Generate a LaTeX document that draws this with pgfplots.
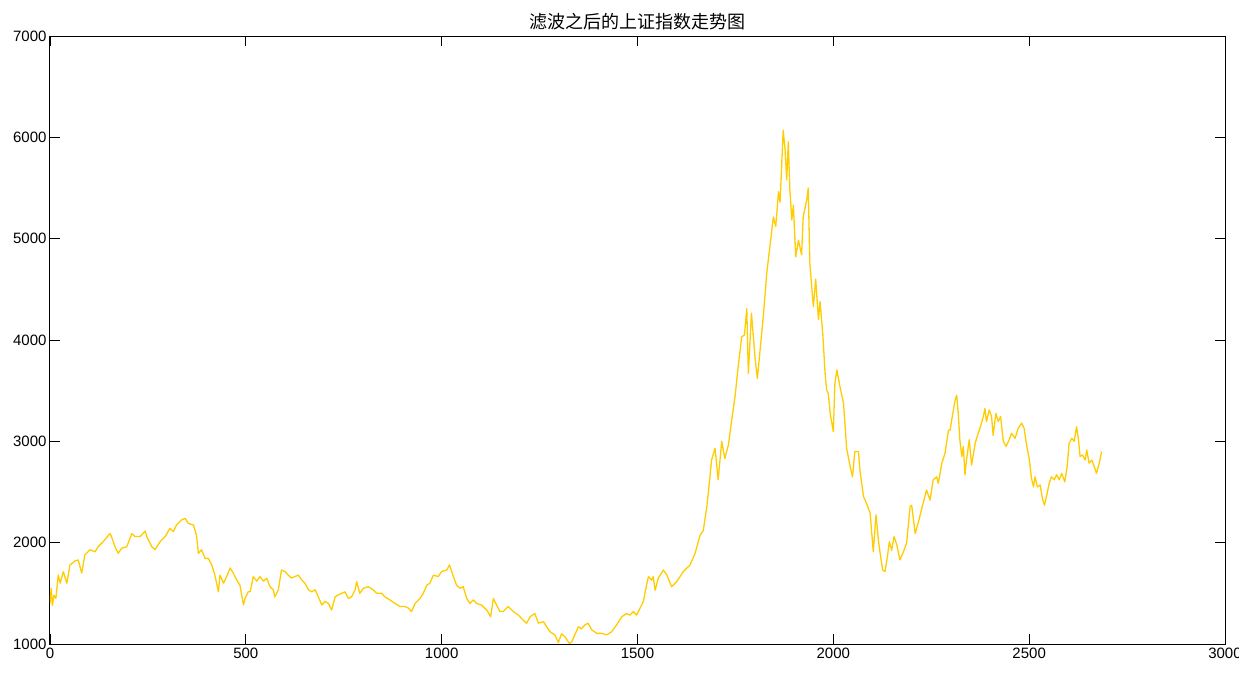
\documentclass[border=0pt]{standalone}
\usepackage{pgfplots}
\pgfplotsset{compat=1.18}
\usepackage{fontspec}
\setmainfont{Liberation Sans}
\newfontfamily\cjk{Noto Sans CJK SC}
\definecolor{lineyellow}{RGB}{255,204,0}
\begin{document}
\begin{tikzpicture}
\begin{axis}[
  scale only axis,
  width=1175pt, height=608pt,
  at={(0,0)}, anchor=south west,
  xmin=0, xmax=3000, ymin=1000, ymax=7000,
  xtick={0,500,...,3000}, ytick={1000,2000,...,7000},
  tick align=inside,
  major tick length=10pt,
  axis line style={line width=1pt},
  every tick/.style={black, line width=0.8pt},
  /pgf/number format/assume math mode=true,
  /pgf/number format/1000 sep={},
  tick label style={font=\fontsize{15}{17}\selectfont},
  title={\cjk\fontsize{18}{20}\selectfont 滤波之后的上证指数走势图},
  title style={yshift=-4pt},
  clip=true,
]
\addplot[color=lineyellow, line width=1.3pt, line join=round] coordinates {
(0,1400)(3,1550)(6,1380)(10,1480)(15,1450)(21,1680)(26,1600)(34,1713)(43,1600)(51,1780)(64,1820)(72,1830)(81,1700)(89,1880)(102,1930)(115,1910)(123,1960)(136,2010)(153,2090)(157,2060)(166,1960)(174,1895)(183,1945)(196,1960)(209,2090)(217,2060)(230,2060)(243,2115)(247,2060)(260,1960)(268,1930)(281,2010)(294,2060)(306,2140)(315,2110)(323,2175)(336,2225)(345,2240)(353,2190)(366,2175)(374,2075)(379,1895)(387,1930)(396,1845)(404,1845)(413,1780)(421,1680)(430,1515)(434,1680)(443,1600)(451,1665)(460,1750)(468,1700)(477,1630)(485,1580)(494,1385)(498,1450)(506,1515)
(511,1515)(519,1665)(528,1620)(536,1665)(545,1620)(553,1650)(562,1565)(570,1535)(574,1465)(583,1535)(591,1730)(600,1715)(608,1680)(617,1650)(625,1665)(634,1680)(642,1635)(651,1600)(660,1535)(668,1515)(677,1535)(685,1465)(694,1385)(702,1420)(711,1400)(719,1335)(728,1465)(736,1485)(745,1500)(753,1515)(762,1450)(770,1465)(779,1535)(783,1615)(791,1500)(800,1550)(813,1565)(825,1535)(834,1500)(847,1500)(855,1465)(868,1435)(881,1400)(894,1370)(906,1370)(915,1355)(923,1320)(932,1400)(945,1450)(953,1500)(962,1580)(970,1600)(979,1680)(991,1665)(1000,1715)(1013,1730)(1020,1780)(1030,1665)
(1038,1580)(1047,1550)(1055,1565)(1064,1450)(1072,1400)(1081,1435)(1089,1400)(1102,1385)(1115,1335)(1125,1270)(1132,1450)(1140,1385)(1149,1320)(1157,1320)(1170,1370)(1183,1320)(1196,1285)(1208,1235)(1217,1205)(1226,1270)(1238,1300)(1247,1205)(1260,1220)(1268,1170)(1277,1120)(1289,1090)(1298,1015)(1306,1100)(1315,1070)(1326,1005)(1332,1020)(1340,1090)(1349,1170)(1357,1150)(1366,1190)(1374,1205)(1383,1140)(1396,1105)(1408,1105)(1421,1090)(1434,1120)(1447,1190)(1460,1270)(1472,1300)(1481,1285)(1489,1320)(1498,1285)(1506,1350)(1515,1420)(1523,1580)(1528,1665)(1536,1630)(1540,1665)(1545,1530)(1553,1650)(1566,1730)(1575,1680)(1587,1565)(1600,1615)(1617,1715)(1634,1780)(1647,1895)(1660,2075)(1668,2120)(1677,2355)(1685,2650)(1689,2815)(1698,2930)(1706,2620)(1715,3000)(1723,2830)(1732,2965)(1740,3195)(1749,3440)(1757,3735)(1766,4030)(1773,4050)(1779,4310)(1783,3670)(1791,4265)(1800,3830)(1806,3620)(1813,3900)(1821,4230)(1826,4460)(1830,4660)(1838,4920)(1847,5215)(1853,5120)(1860,5465)(1864,5360)(1868,5710)(1872,6070)(1877,5870)(1881,5580)(1885,5955)(1889,5480)(1894,5185)(1898,5330)(1904,4820)(1911,4985)(1919,4840)(1923,5215)(1932,5380)(1936,5500)(1940,4755)(1949,4330)(1955,4600)(1962,4200)(1966,4380)(1973,4065)(1979,3670)(1983,3505)(1987,3475)(1992,3275)(2000,3095)(2004,3570)(2009,3705)(2017,3540)(2026,3375)(2034,2930)(2043,2750)(2049,2650)(2055,2900)(2064,2900)(2068,2715)(2077,2455)(2085,2385)(2094,2290)(2102,1910)(2109,2275)(2115,2025)(2119,1910)(2126,1730)(2132,1715)(2138,1860)(2143,2010)(2149,1925)(2155,2060)(2162,1980)(2170,1830)(2179,1910)(2187,1995)(2196,2355)(2200,2370)(2209,2090)(2217,2200)(2226,2340)(2238,2520)(2247,2420)(2255,2620)(2264,2650)(2268,2585)(2277,2785)(2285,2880)(2294,3110)
(2298,3110)(2305,3275)(2311,3410)(2315,3455)(2319,3275)(2323,3015)(2328,2850)(2332,2950)(2336,2670)(2340,2815)(2347,3015)(2353,2765)(2362,2980)(2370,3080)(2376,3150)(2383,3245)(2387,3325)(2391,3195)(2398,3310)(2404,3245)(2408,3060)(2415,3275)(2421,3195)(2427,3245)(2434,3000)(2441,2950)(2449,3015)(2455,3080)(2464,3030)(2472,3130)(2481,3180)(2487,3130)(2494,2950)(2500,2830)(2506,2635)(2511,2550)(2515,2650)(2521,2550)(2528,2570)(2534,2435)(2539,2370)(2545,2470)(2551,2585)(2557,2650)(2564,2620)(2570,2670)(2577,2620)(2583,2685)(2591,2600)(2597,2750)(2602,2980)(2609,3030)(2615,3000)(2621,3145)(2626,3015)(2630,2850)(2636,2865)(2643,2815)(2647,2915)(2653,2785)(2660,2815)(2666,2750)(2672,2685)(2679,2785)(2685,2900)
};
\end{axis}
\pgfresetboundingbox
\path[use as bounding box] (-50pt,-31pt) rectangle (1189pt,644pt);
\end{tikzpicture}
\end{document}
